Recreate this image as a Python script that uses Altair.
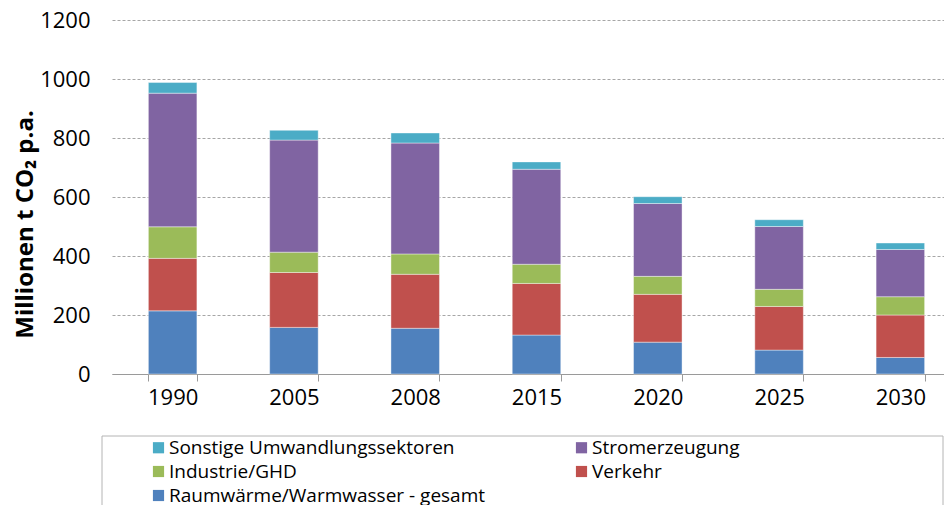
import altair as alt
import pandas as pd

years = ["1990", "2005", "2008", "2015", "2020", "2025", "2030"]
raumwaerme = [214, 158, 155, 132, 108, 81, 56]
verkehr = [178, 186, 183, 175, 162, 148, 144]
industrie = [107, 69, 69, 65, 61, 58, 62]
strom = [453, 380, 376, 322, 247, 213, 160]
sonstige = [36, 33, 34, 25, 23, 23, 22]

series_names = [
    "Raumwärme/Warmwasser - gesamt",
    "Verkehr",
    "Industrie/GHD",
    "Stromerzeugung",
    "Sonstige Umwandlungssektoren",
]
series_values = [raumwaerme, verkehr, industrie, strom, sonstige]
series_colors = ["#4F81BD", "#C0504D", "#9BBB59", "#8064A2", "#4BACC6"]

rows = []
for idx, (name, vals) in enumerate(zip(series_names, series_values)):
    for y, v in zip(years, vals):
        rows.append({"Jahr": y, "Sektor": name, "Wert": v, "idx": idx})
df = pd.DataFrame(rows)

# legend is filled column by column: first column, then second column
legend_order = [
    "Sonstige Umwandlungssektoren",
    "Industrie/GHD",
    "Raumwärme/Warmwasser - gesamt",
    "Stromerzeugung",
    "Verkehr",
]
legend_colors = [series_colors[series_names.index(n)] for n in legend_order]

FONT = "Open Sans"

bars = alt.Chart(df).mark_bar(
    stroke="white", strokeWidth=0.8, strokeOpacity=0.5
).encode(
    x=alt.X(
        "Jahr:N",
        sort=years,
        scale=alt.Scale(range=[0, 849], paddingInner=0.6, paddingOuter=0.3),
        axis=alt.Axis(
            title=None,
            labelAngle=0,
            labelFontSize=22,
            labelFont=FONT,
            labelColor="#000000",
            labelPadding=6,
            tickBand="extent",
            tickSize=7,
            tickColor="#9a9a9a",
            domainColor="#9a9a9a",
            grid=False,
        ),
    ),
    y=alt.Y(
        "Wert:Q",
        stack="zero",
        scale=alt.Scale(domain=[0, 1200], nice=False),
        axis=alt.Axis(
            title="Millionen t CO₂ p.a.",
            values=[0, 200, 400, 600, 800, 1000, 1200],
            format="d",
            domain=False,
            ticks=False,
            labelPadding=22,
            labelFontSize=22,
            labelFont=FONT,
            labelColor="#000000",
            gridDash=[3, 2],
            gridColor="#a6a6a6",
            gridWidth=1,
            titleFont=FONT,
            titleFontSize=24,
            titleFontWeight="bold",
            titleColor="#000000",
            titleAngle=270,
            titleAlign="center",
            titleBaseline="middle",
            titleX=-87,
            titleY=204,
        ),
    ),
    color=alt.Color(
        "Sektor:N",
        scale=alt.Scale(domain=legend_order, range=legend_colors),
        legend=alt.Legend(
            title=None,
            orient="none",
            legendX=37,
            legendY=418,
            columns=2,
            columnPadding=86,
            rowPadding=4,
            symbolType="square",
            symbolSize=125,
            symbolStrokeWidth=0,
            labelOffset=1,
            labelFont=FONT,
            labelFontSize=19,
            labelColor="#000000",
            labelLimit=400,
            padding=0,
        ),
    ),
    order=alt.Order("idx:Q", sort="ascending"),
)

frame = alt.Chart(alt.Data(values=[{"f": 1}])).mark_rect(
    fill=None, stroke="#b4b4b4", strokeWidth=1
).encode(
    x=alt.value(-10),
    x2=alt.value(831),
    y=alt.value(416),
    y2=alt.value(530),
)

chart = alt.layer(frame, bars).properties(
    width=832,
    height=354,
    autosize=alt.AutoSizeParams(type="none"),
    padding={"left": 104, "top": 12, "right": 0, "bottom": 131},
).configure_view(stroke=None)

chart.save("out.html", embed_options={"renderer": "svg", "actions": False})
